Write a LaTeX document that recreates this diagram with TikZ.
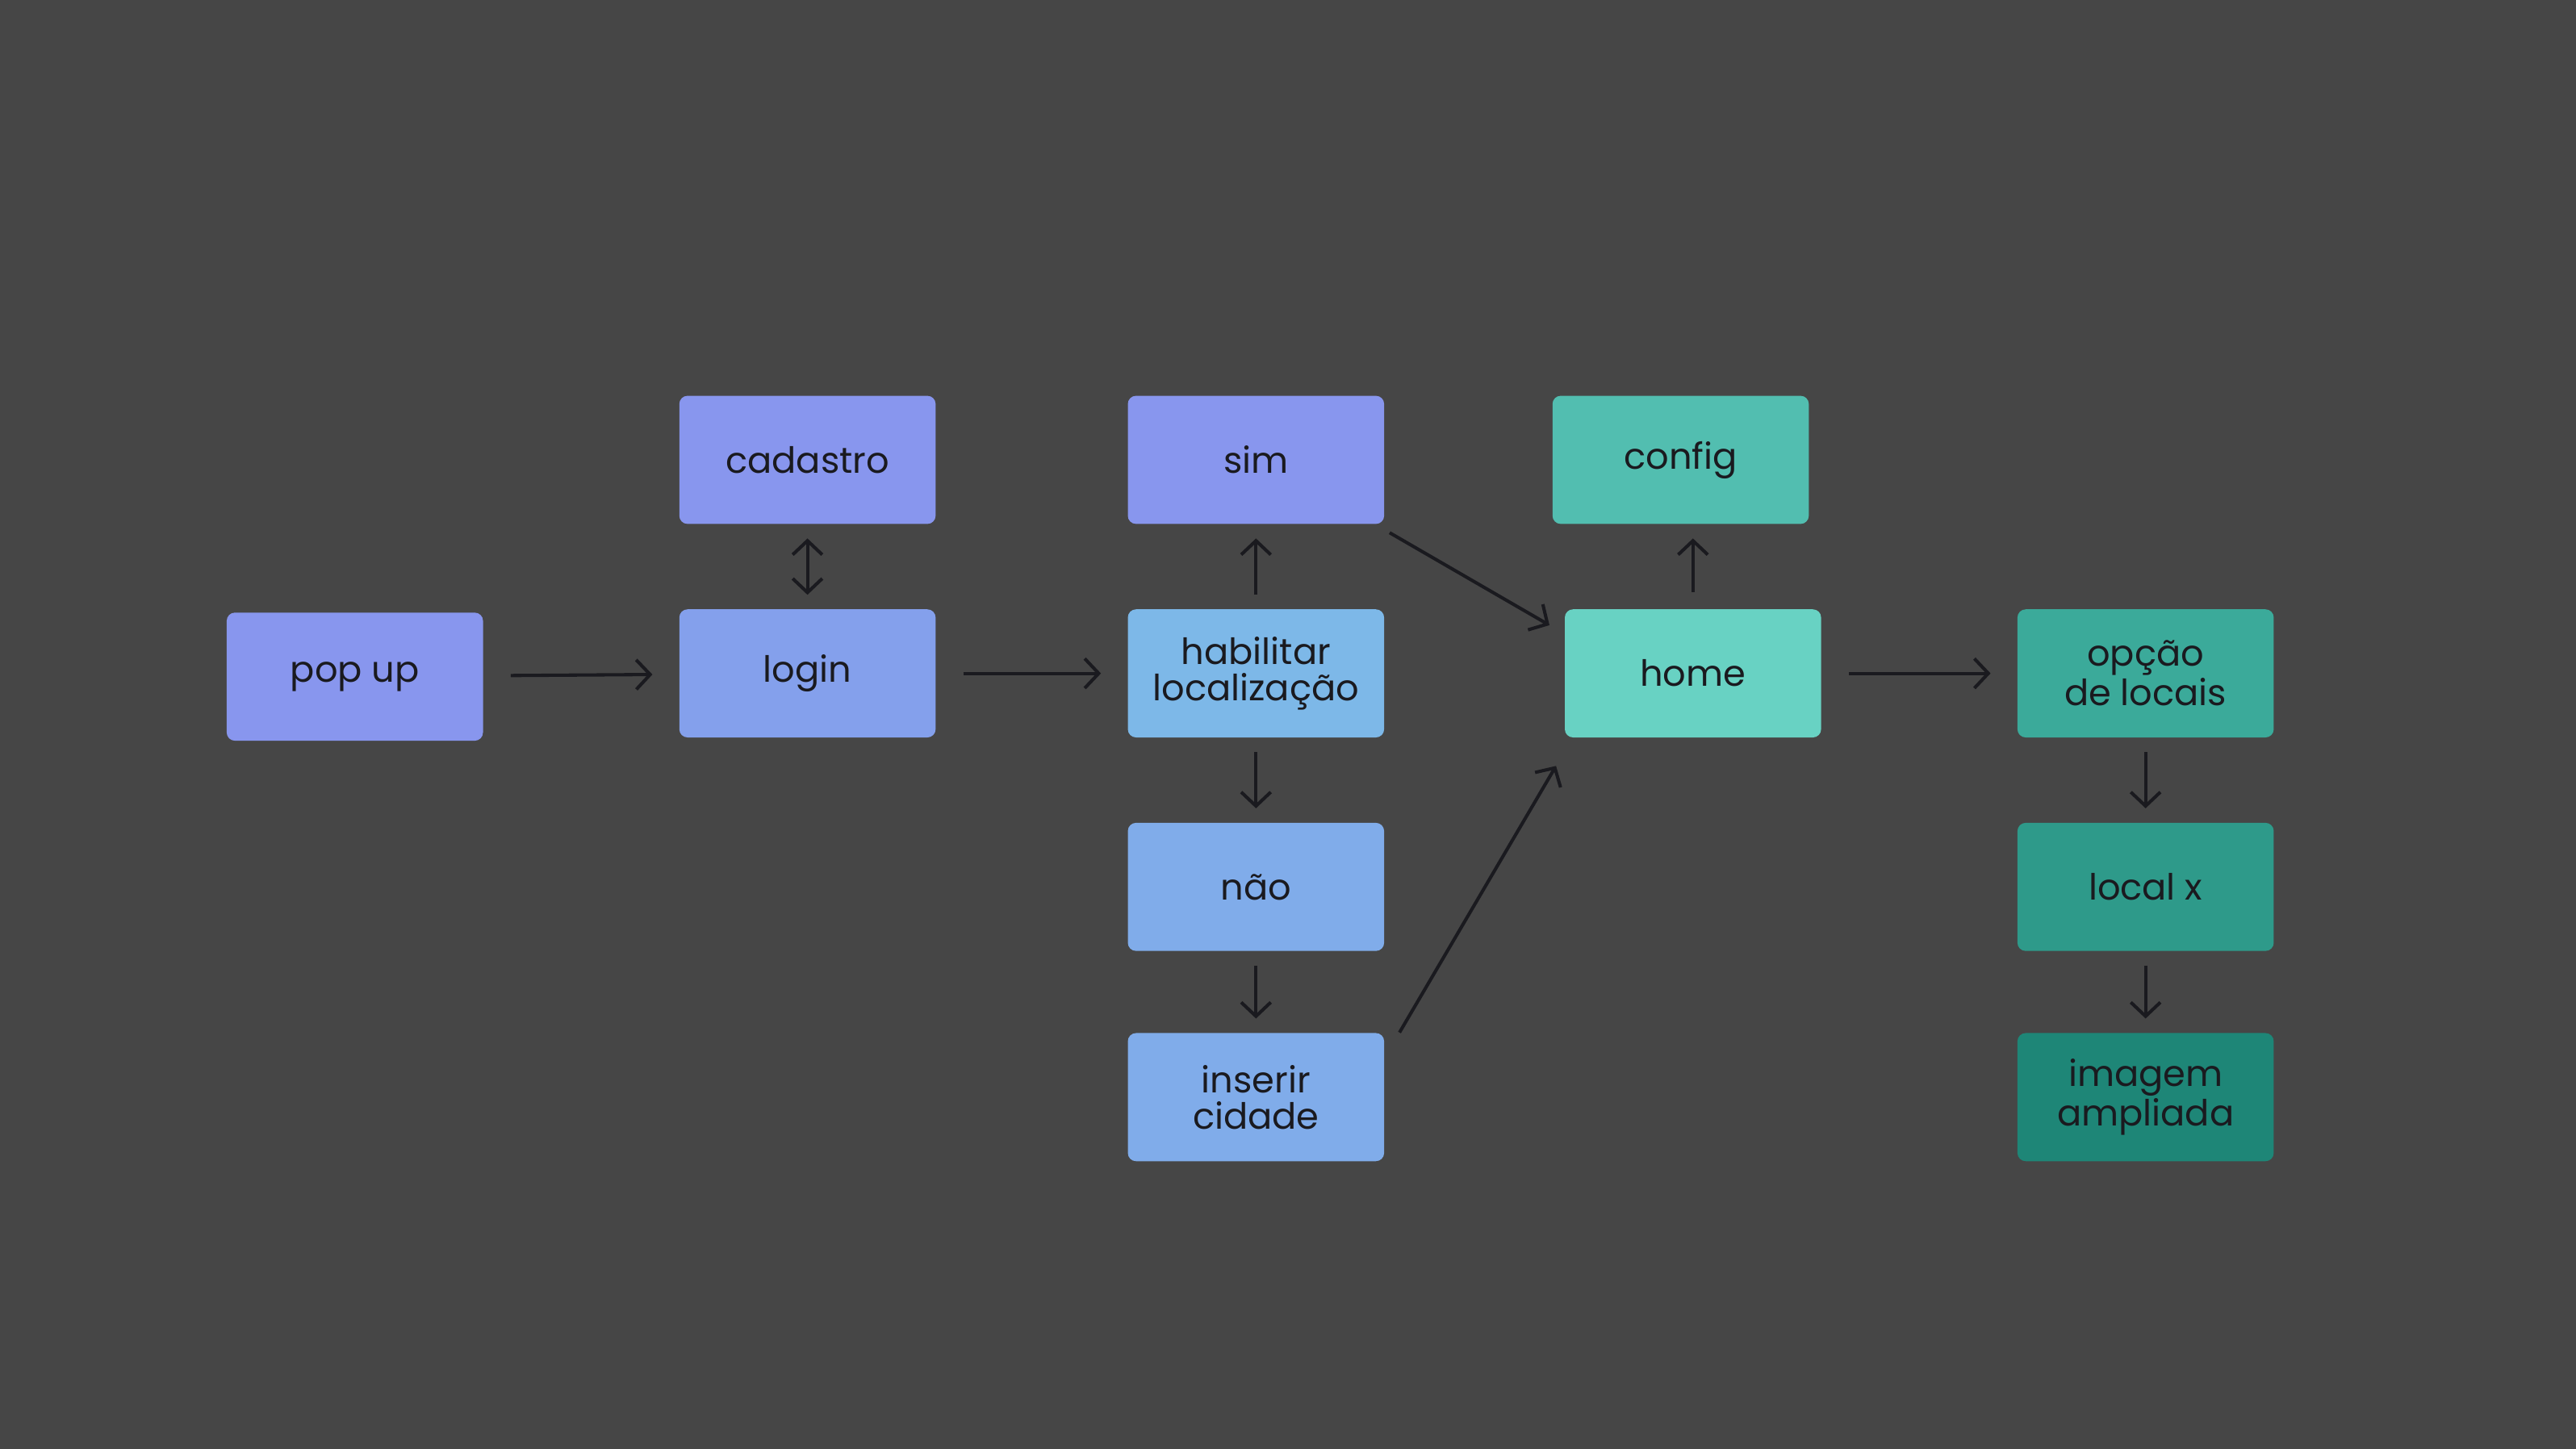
\documentclass[tikz,border=0pt]{standalone}
\usepackage{fontspec}
\setmainfont{Poppins}
\usetikzlibrary{arrows.meta}

\definecolor{bg}{HTML}{464646}
\definecolor{ink}{HTML}{1A1A1F}
\definecolor{violet}{HTML}{8896EE}
\definecolor{blueviolet}{HTML}{84A0EC}
\definecolor{skyblue}{HTML}{7DB8E8}
\definecolor{softblue}{HTML}{80ACEA}
\definecolor{tealcfg}{HTML}{52BEB0}
\definecolor{tealhome}{HTML}{68D2C3}
\definecolor{tealopt}{HTML}{3BAA9A}
\definecolor{teallocal}{HTML}{2E9A8A}
\definecolor{tealimg}{HTML}{1E8677}

\begin{document}
\begin{tikzpicture}[x=0.2mm, y=-0.2mm,
	box/.style={rectangle, rounded corners=1mm, minimum width=31.2mm, minimum height=15.6mm,
		align=center, text=ink, font=\fontsize{12.5}{12.5}\selectfont},
	link/.style={-{Straight Barb[length=1.7mm, width=3.6mm]}, line width=0.4mm, draw=ink},
	hlink/.style={link, shorten <=3.3mm, shorten >=3.2mm},
	vlink/.style={link, shorten <=1.7mm, shorten >=1.7mm}]

	\fill[bg] (0,0) rectangle (1568,882);
	\useasboundingbox (0,0) rectangle (1568,882);

	\node[box, fill=violet] (n1) at (216,412) {pop up};
	\node[box, fill=violet] (n2) at (491.5,280) {cadastro};
	\node[box, fill=blueviolet] (n3) at (491.5,410) {login};
	\node[box, fill=violet] (n4) at (764.5,280) {sim};
	\node[box, fill=skyblue] (n5) at (764.5,410) {habilitar\\localização};
	\node[box, fill=softblue] (n6) at (764.5,540) {não};
	\node[box, fill=softblue] (n7) at (764.5,668) {inserir\\cidade};
	\node[box, fill=tealcfg] (n8) at (1023,280) {config};
	\node[box, fill=tealhome] (n9) at (1030.5,410) {home};
	\node[box, fill=tealopt] (n10) at (1306,410) {opção\\de locais};
	\node[box, fill=teallocal] (n11) at (1306,540) {local x};
	\node[box, fill=tealimg] (n12) at (1306,668) {imagem\\ampliada};

	\draw[hlink] (n1) -- (n3);
	\draw[hlink] (n3) -- (n5);
	\draw[vlink, {Straight Barb[length=1.7mm, width=3.6mm]}-{Straight Barb[length=1.7mm, width=3.6mm]}] (n3) -- (n2);
	\draw[vlink] (n5) -- (n4);
	\draw[vlink] (n5) -- (n6);
	\draw[vlink] (n6) -- (n7);
	\draw[link] ([xshift=0.6mm, yshift=-1mm]n4.south east) -- ([xshift=-1.8mm, yshift=-2mm]n9.north west);
	\draw[link] ([xshift=1.8mm]n7.north east) -- ([xshift=-1mm, yshift=-3.4mm]n9.south west);
	\draw[link] ([yshift=2mm]n9.north) -- ([yshift=-1.7mm]n9.north |- n8.south);
	\draw[hlink] (n9) -- (n10);
	\draw[vlink] (n10) -- (n11);
	\draw[vlink] (n11) -- (n12);
\end{tikzpicture}
\end{document}
